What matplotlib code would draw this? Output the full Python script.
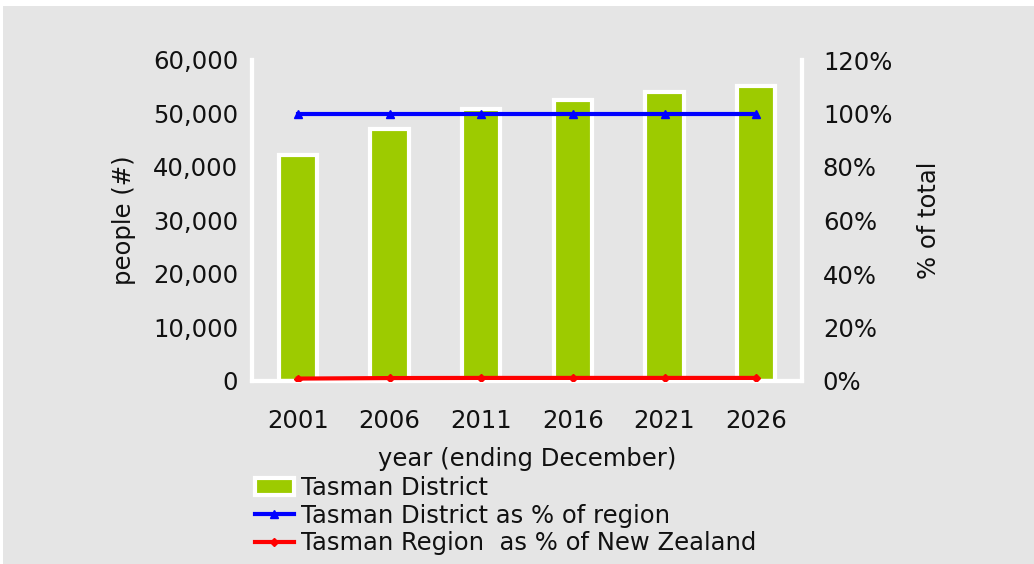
import numpy as np
import matplotlib.pyplot as plt
from matplotlib.patches import Rectangle
from matplotlib.ticker import FuncFormatter

years = ['2001', '2006', '2011', '2016', '2021', '2026']
district_pop = [42300, 47100, 50800, 52500, 54000, 55100]
district_pct_region = [100, 100, 100, 100, 100, 100]
region_pct_nz = [0.9, 1.1, 1.15, 1.15, 1.15, 1.15]

bg = '#e5e5e5'
fs = 17.5
fig = plt.figure(figsize=(10.34, 5.64), dpi=100)
fig.patch.set_facecolor('white')
fig.patches.append(Rectangle((3 / 1034, 0), 1, 1 - 6 / 564, transform=fig.transFigure,
                             facecolor=bg, edgecolor='none', zorder=-10))

ax = fig.add_axes([252 / 1034, 1 - 381 / 564, 550 / 1034, 321 / 564])
ax.set_facecolor(bg)
x = np.arange(len(years))
bars = ax.bar(x, district_pop, 0.42, color='#9dcb00', edgecolor='white', linewidth=3,
              label='Tasman District', zorder=2)
ax.set_xlim(-0.5, len(years) - 0.5)
ax.set_ylim(0, 60000)
ax.set_yticks(np.arange(0, 60001, 10000))
ax.yaxis.set_major_formatter(FuncFormatter(lambda v, p: '{:,.0f}'.format(v)))
ax.set_xticks(x)
ax.set_xticklabels(years)
ax.tick_params(length=0, labelsize=fs, labelcolor='#111111')
ax.tick_params(axis='x', pad=20)
ax.tick_params(axis='y', pad=10)
ax.set_ylabel('people (#)', fontsize=fs, labelpad=12, color='#111111')
ax.set_xlabel('year (ending December)', fontsize=fs, labelpad=10, color='#111111')
ax.spines['top'].set_visible(False)
for s in ['left', 'right', 'bottom']:
    ax.spines[s].set_color('white')
    ax.spines[s].set_linewidth(3)

ax2 = ax.twinx()
l1, = ax2.plot(x, district_pct_region, color='#0000ff', lw=3, marker='^', ms=6,
               label='Tasman District as % of region', zorder=3)
l2, = ax2.plot(x, region_pct_nz, color='#ff0000', lw=3, marker='D', ms=4.5,
               label='Tasman Region  as % of New Zealand', zorder=3)
ax2.set_ylim(0, 120)
ax2.set_yticks(np.arange(0, 121, 20))
ax2.yaxis.set_major_formatter(FuncFormatter(lambda v, p: '{:.0f}%'.format(v)))
ax2.tick_params(length=0, labelsize=fs, pad=15, labelcolor='#111111')
ax2.set_ylabel('% of total', fontsize=fs, labelpad=18, color='#111111')
ax2.spines['top'].set_visible(False)
for s in ['left', 'right', 'bottom']:
    ax2.spines[s].set_color('white')
    ax2.spines[s].set_linewidth(3)

leg = fig.legend(handles=[bars, l1, l2], loc='upper left', bbox_to_anchor=(255 / 1034, 1 - 476 / 564),
                 frameon=False, fontsize=fs, handlelength=1.6, handletextpad=0.3,
                 labelspacing=0.15, borderaxespad=0, borderpad=0)
for t in leg.get_texts():
    t.set_color('#111111')

fig.savefig('out.png', dpi=100, facecolor=fig.get_facecolor())
